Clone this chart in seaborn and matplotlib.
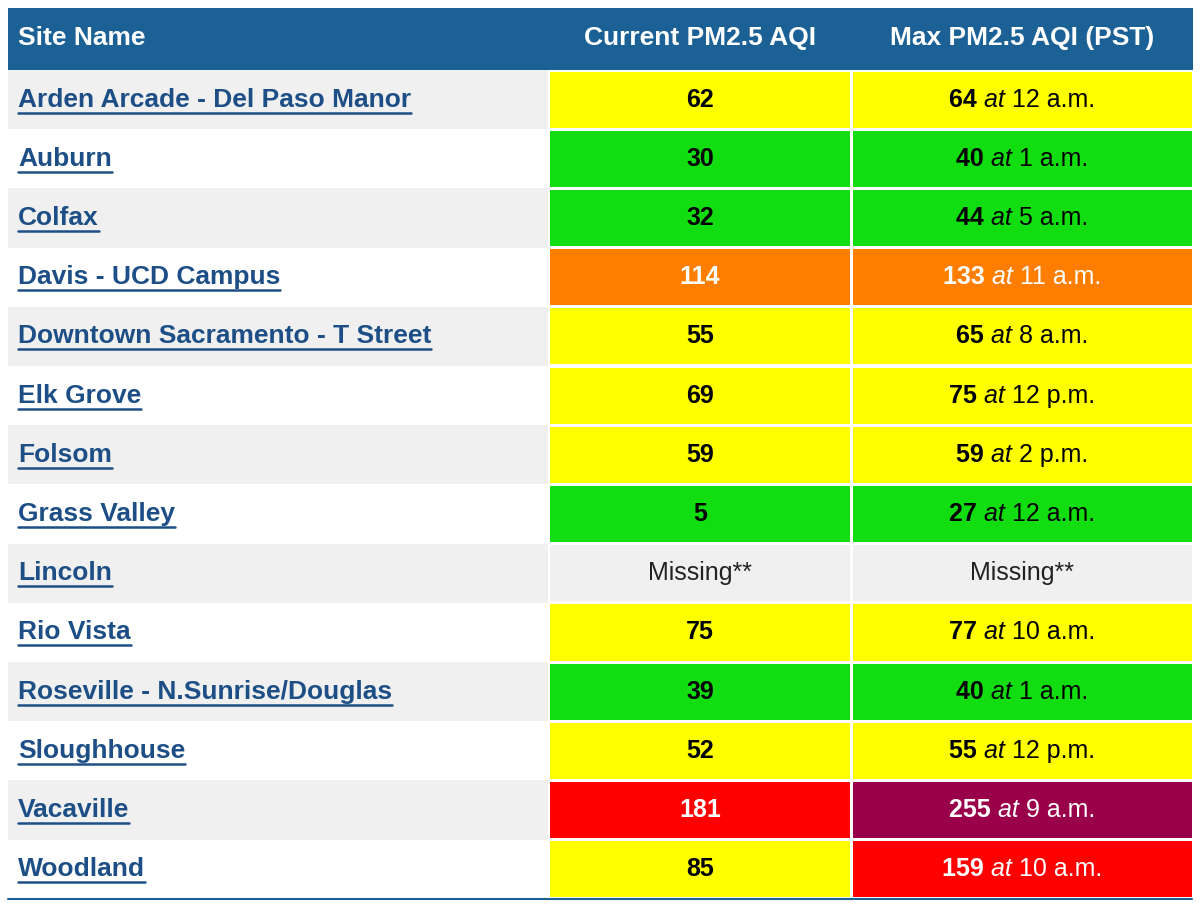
import numpy as np
import matplotlib
matplotlib.use("Agg")
import matplotlib.pyplot as plt
import seaborn as sns

sites = ["Arden Arcade - Del Paso Manor", "Auburn", "Colfax", "Davis - UCD Campus",
         "Downtown Sacramento - T Street", "Elk Grove", "Folsom", "Grass Valley",
         "Lincoln", "Rio Vista", "Roseville - N.Sunrise/Douglas", "Sloughhouse",
         "Vacaville", "Woodland"]
current_aqi = [62, 30, 32, 114, 55, 69, 59, 5, None, 75, 39, 52, 181, 85]
max_aqi = [64, 40, 44, 133, 65, 75, 59, 27, None, 77, 40, 55, 255, 159]
max_time = ["12 a.m.", "1 a.m.", "5 a.m.", "11 a.m.", "8 a.m.", "12 p.m.", "2 p.m.",
            "12 a.m.", None, "10 a.m.", "1 a.m.", "12 p.m.", "9 a.m.", "10 a.m."]
headers = ["Site Name", "Current PM2.5 AQI", "Max PM2.5 AQI (PST)"]

sns.set_theme(style="white")
plt.rcParams['font.family'] = ['Liberation Sans', 'DejaVu Sans']

HEAD = "#1b6196"
LINK = "#1d4f86"
GRAY = "#f0f0f0"

def aqi_color(v):
    if v is None:
        return GRAY
    if v <= 50:
        return "#11dd11"
    if v <= 100:
        return "#ffff00"
    if v <= 150:
        return "#ff7e00"
    if v <= 200:
        return "#ff0000"
    return "#990049"

def text_color(v):
    return "white" if v is not None and v > 100 else "black"

fig = plt.figure(figsize=(12, 9.1), dpi=100)
ax = fig.add_axes([0, 0, 1, 1])
ax.set_xlim(0, 1200)
n = len(sites)
row_h = 59.2
top = 70
ax.set_ylim(910, 0)
ax.axis("off")

# header
ax.barh([(top + 8) / 2], [1185], left=8, height=top - 8, color=HEAD, linewidth=0)
ax.text(18, 38, headers[0], color="white", fontsize=19, fontweight="bold", va="center")
ax.text(700, 38, headers[1], color="white", fontsize=19, fontweight="bold", va="center", ha="center")
ax.text(1022, 38, headers[2], color="white", fontsize=19, fontweight="bold", va="center", ha="center")

ys = top + row_h * (np.arange(n) + 0.5)
name_bg = [GRAY if i % 2 == 0 or current_aqi[i] is None else "white" for i in range(n)]
ax.barh(ys, [540] * n, left=8, height=row_h, color=name_bg, linewidth=0)
ax.barh(ys, [300] * n, left=550, height=row_h - 3, color=[aqi_color(v) for v in current_aqi], linewidth=0)
ax.barh(ys, [339] * n, left=853, height=row_h - 3, color=[aqi_color(v) for v in max_aqi], linewidth=0)
ax.plot([8, 1192], [top + row_h * n, top + row_h * n], color=HEAD, lw=1.5)

fig.canvas.draw()
r = fig.canvas.get_renderer()
for i, y in enumerate(ys):
    t = ax.text(18, y, sites[i], color=LINK, fontsize=19, fontweight="bold", va="center")
    bb = t.get_window_extent(r)
    x0, x1 = bb.x0, bb.x1
    ax.plot([18, 18 + (x1 - x0)], [y + 13, y + 13], color=LINK, lw=1.8)
    if current_aqi[i] is None:
        ax.text(700, y, "Missing**", fontsize=18, va="center", ha="center", color="#222222")
        ax.text(1022, y, "Missing**", fontsize=18, va="center", ha="center", color="#222222")
        continue
    tc = text_color(current_aqi[i])
    ax.text(700, y, str(current_aqi[i]), fontsize=18, fontweight="bold", va="center", ha="center", color=tc)
    mc = text_color(max_aqi[i])
    parts = [(str(max_aqi[i]) + " ", "bold", "normal"), ("at ", "normal", "italic"), (max_time[i], "normal", "normal")]
    objs = [ax.text(0, y, s, fontsize=18, fontweight=w, style=st, va="center", color=mc) for s, w, st in parts]
    widths = [o.get_window_extent(r).width for o in objs]
    x = 1022 - sum(widths) / 2
    for o, w in zip(objs, widths):
        o.set_x(x)
        x += w

fig.savefig("out.png", dpi=100)
